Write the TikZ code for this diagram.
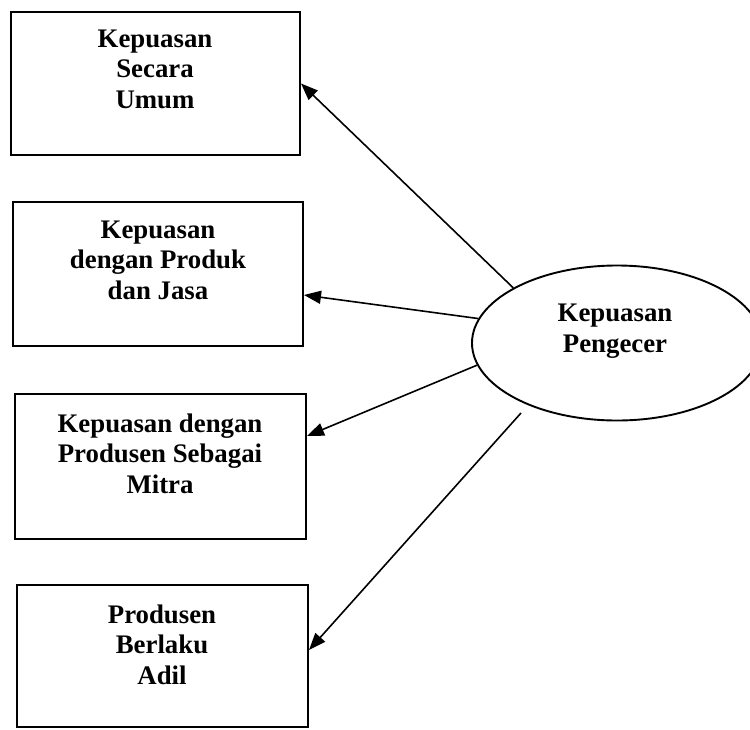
\documentclass[tikz,border=0pt]{standalone}
\usepackage{fontspec}
\setmainfont{Liberation Serif}
\usetikzlibrary{arrows.meta,shapes.geometric}
\begin{document}
\begin{tikzpicture}[x=1pt,y=-1pt,
  box/.style={draw, line width=2pt, inner sep=0pt},
  lbl/.style={font=\fontsize{26.8}{30.5}\selectfont\bfseries, align=center, inner sep=0pt, anchor=north},
  link/.style={line width=1.6pt, -{Triangle[length=17pt,width=13pt]}}]
  \useasboundingbox (0,0) rectangle (750,729);
  \clip (0,0) rectangle (750,729);

  % four measured constructs
  \node[box, minimum width=289pt, minimum height=143pt] (b1) at (155.5,83.5) {};
  \node[box, minimum width=290pt, minimum height=144pt] (b2) at (158,274) {};
  \node[box, minimum width=291pt, minimum height=145pt] (b3) at (160.5,466) {};
  \node[box, minimum width=291pt, minimum height=142pt] (b4) at (162.5,656) {};

  \node[lbl] (t1) at (155,29.5) {Kepuasan\\Secara\\Umum};
  \node[lbl] (t2) at (158,220.5) {Kepuasan\\dengan Produk\\dan Jasa};
  \node[lbl] (t3) at (160,413.5) {Kepuasan dengan\\Produsen Sebagai\\Mitra};
  \node[lbl] (t4) at (162,604.5) {Produsen\\Berlaku\\Adil};

  % latent construct
  \node[draw, ellipse, line width=1.9pt, minimum width=290pt, minimum height=155pt, inner sep=0pt] (e) at (617,343) {};
  \node[lbl] (te) at (615,304) {Kepuasan\\Pengecer};

  \coordinate (s4) at (521,413);

  \draw[link] (e.152) -- (b1.east);
  \draw[link] (e.170) -- ([yshift=-21pt]b2.east);
  \draw[link] (e.189) -- ([yshift=30pt]b3.east);
  \draw[link] (s4) -- ([yshift=6pt]b4.east);
\end{tikzpicture}
\end{document}
